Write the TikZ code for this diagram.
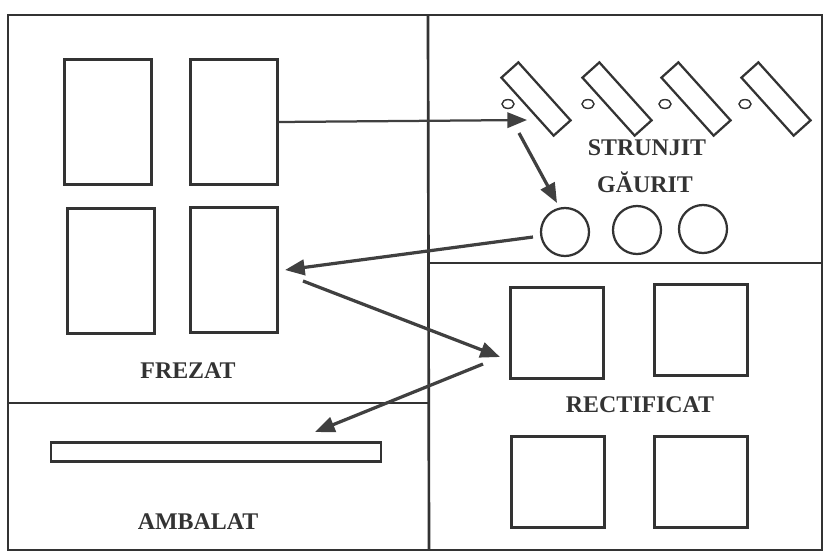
\documentclass[tikz,border=0pt]{standalone}
\usepackage{fontspec}
\setmainfont{Liberation Serif}
\usetikzlibrary{arrows.meta,shapes.geometric}

\begin{document}
\begin{tikzpicture}[x=0.025cm,y=-0.025cm,
		wall/.style={draw=black!80,line width=1.9pt},
		machine/.style={draw=black!80,line width=1.6pt,inner sep=0pt},
		lathe/.style={machine,minimum width=1.95cm,minimum height=0.57cm,rotate=-48},
		drill/.style={machine,circle,minimum size=1.2cm},
		grinder/.style={machine,minimum width=2.33cm,minimum height=2.28cm},
		mill/.style={machine,minimum width=2.17cm,minimum height=3.12cm},
		spot/.style={machine,ellipse,line width=1pt,minimum width=0.3cm,minimum height=0.22cm},
		zonename/.style={text=black!80,font=\fontsize{17}{20}\selectfont\bfseries},
		flow/.style={draw=black!75,line width=2.3pt,-{Triangle[length=14pt,width=11pt]}}]
			\useasboundingbox (0,0) rectangle (824,555);
			% hall and zones
			\draw[wall] (8,15) rectangle (822,550);
			\draw[wall] (428,15) -- (429,550);
			\draw[wall] (8,403) -- (428,403);
			\draw[wall] (428,263) -- (822,263);
			% frezat
			\node[mill] (f1) at (108,122) {};
			\node[mill] (f2) at (234,122) {};
			\node[mill] (f3) at (111,271) {};
			\node[mill] (f4) at (234,270) {};
			\node[zonename] (frezat) at (188,371) {FREZAT};
			% ambalat
			\node[machine,minimum width=8.23cm,minimum height=0.48cm] (pack) at (216,452) {};
			\node[zonename] (ambalat) at (198,522) {AMBALAT};
			% strunjit / gaurit
			\foreach \i/\x in {1/536,2/617,3/696,4/776}
				\node[lathe] (s\i) at (\x,99) {};
			\foreach \i/\x in {1/508,2/588,3/665,4/745}
				\node[spot] (o\i) at (\x,104) {};
			\node[drill] (g1) at (565,232) {};
			\node[drill] (g2) at (637,230) {};
			\node[drill] (g3) at (703,229) {};
			\node[zonename] (strunjit) at (647,148) {STRUNJIT};
			\node[zonename] (gaurit) at (645,182) {GĂURIT};
			% rectificat
			\node[grinder] (r1) at (557,333) {};
			\node[grinder] (r2) at (701,330) {};
			\node[grinder] (r3) at (558,482) {};
			\node[grinder] (r4) at (701,482) {};
			\node[zonename] (rectificat) at (640,405) {RECTIFICAT};
			% flow of parts
			\coordinate (a1) at (527,120);
			\coordinate (b0) at (519,133);
			\coordinate (b1) at (557,203);
			\coordinate (c0) at (533,237);
			\coordinate (c1) at (285,270);
			\coordinate (d0) at (303,281);
			\coordinate (d1) at (500,357);
			\coordinate (e0) at (483,364);
			\coordinate (e1) at (315,432);
			\draw[flow,line width=1.6pt] (f2.east) -- (a1);
			\draw[flow] (b0) -- (b1);
			\draw[flow] (c0) -- (c1);
			\draw[flow] (d0) -- (d1);
			\draw[flow] (e0) -- (e1);
		\end{tikzpicture}
\end{document}
